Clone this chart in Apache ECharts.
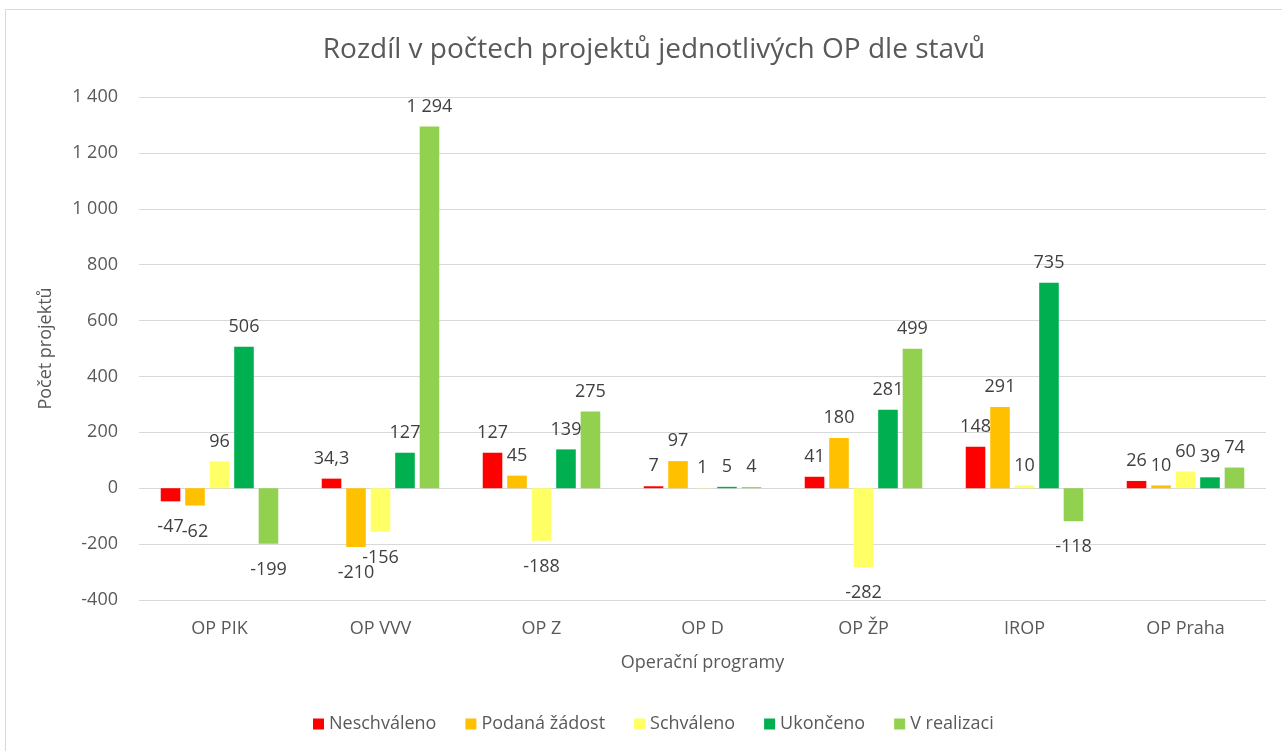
<!DOCTYPE html>
<html>
<head>
<meta charset="utf-8">
<script src="https://cdn.jsdelivr.net/npm/echarts@6/dist/echarts.min.js"></script>
<style>
  html, body { margin: 0; padding: 0; background: #fff; }
  #chart { width: 1282px; height: 751px; }
</style>
</head>
<body>
<div id="chart"></div>
<script>
// data
const categories = ["OP PIK", "OP VVV", "OP Z", "OP D", "OP ŽP", "IROP", "OP Praha"];
const seriesNames = ["Neschváleno", "Podaná žádost", "Schváleno", "Ukončeno", "V realizaci"];
const neschvaleno = [-47, 34.3, 127, 7, 41, 148, 26];
const podanaZadost = [-62, -210, 45, 97, 180, 291, 10];
const schvaleno = [96, -156, -188, 1, -282, 10, 60];
const ukonceno = [506, 127, 139, 5, 281, 735, 39];
const vRealizaci = [-199, 1294, 275, 4, 499, -118, 74];
const yTicks = { min: -400, max: 1400, interval: 200 };

const colors = ["#FF0000", "#FFC000", "#FFFF66", "#00B050", "#92D050"];
const allValues = [neschvaleno, podanaZadost, schvaleno, ukonceno, vRealizaci];

// czech number format: space as thousands separator, comma as decimal
function fmt(v) {
  const neg = v < 0;
  let s = String(Math.abs(v)).split(".");
  s[0] = s[0].replace(/\B(?=(\d{3})+(?!\d))/g, " ");
  return (neg ? "-" : "") + s.join(",");
}

const font = '"Open Sans", sans-serif';

const chart = echarts.init(document.getElementById("chart"));
chart.setOption({
  animation: false,
  color: colors,
  title: {
    text: "Rozdíl v počtech projektů jednotlivých OP dle stavů",
    left: 649,
    textAlign: "center",
    top: 31,
    textStyle: { fontFamily: font, fontSize: 28, fontWeight: "normal", color: "#595959" }
  },
  graphic: [{
    type: "rect",
    shape: { x: 5.5, y: 9.5, width: 1300, height: 800 },
    style: { fill: "none", stroke: "#d9d9d9", lineWidth: 1 },
    silent: true
  }],
  legend: {
    data: seriesNames,
    bottom: 13,
    left: 308,
    itemWidth: 11,
    itemHeight: 11,
    itemGap: 29,
    icon: "rect",
    textStyle: { fontFamily: font, fontSize: 18, color: "#595959" }
  },
  grid: { left: 139, right: 16, top: 97, bottom: 151 },
  xAxis: {
    type: "category",
    data: categories,
    name: "Operační programy",
    nameLocation: "middle",
    nameGap: 54,
    nameTextStyle: { fontFamily: font, fontSize: 18, color: "#595959" },
    axisLine: { show: false, onZero: false },
    axisTick: { show: false },
    axisLabel: { fontFamily: font, fontSize: 18, color: "#595959", margin: 20 }
  },
  yAxis: {
    type: "value",
    min: yTicks.min,
    max: yTicks.max,
    interval: yTicks.interval,
    name: "Počet projektů",
    nameLocation: "middle",
    nameGap: 84,
    nameTextStyle: { fontFamily: font, fontSize: 18, color: "#595959" },
    axisLine: { show: false },
    axisTick: { show: false },
    axisLabel: { fontFamily: font, fontSize: 18, color: "#595959", margin: 21, formatter: fmt },
    splitLine: { lineStyle: { color: "#d9d9d9", width: 1 } }
  },
  series: seriesNames.map(function (name, i) {
    return {
      name: name,
      type: "bar",
      barGap: "25%",
      barCategoryGap: "27%",
      data: allValues[i].map(function (v) {
        return {
          value: v,
          label: { position: v < 0 ? "bottom" : "top", distance: v < 0 ? 17 : 11 }
        };
      }),
      label: {
        show: true,
        fontFamily: font,
        fontSize: 18,
        color: "#404040",
        formatter: function (p) { return fmt(p.value); }
      }
    };
  })
});
</script>
</body>
</html>
